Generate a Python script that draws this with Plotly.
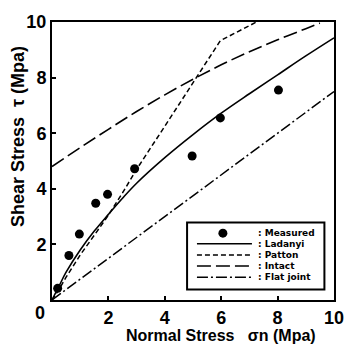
import plotly.graph_objects as go

# Measured data
meas_sigma = [0.2, 0.6, 0.97, 1.55, 1.97, 2.93, 4.97, 5.97, 8.03]
meas_tau = [0.42, 1.6, 2.37, 3.48, 3.8, 4.72, 5.18, 6.55, 7.55]

# Ladanyi
lad_sigma = [0, 0.1, 0.25, 0.5, 1, 1.5, 2, 2.5, 3, 4, 5, 6, 7, 8, 9, 10]
lad_tau = [0, 0.2, 0.5, 1.0, 1.8, 2.48, 3.08, 3.66, 4.2, 5.12, 5.95, 6.72, 7.42, 8.1, 8.78, 9.43]

# Patton
pat_sigma = [0, 0.25, 0.5, 1, 1.5, 2, 2.5, 3, 4, 5, 5.97, 7.25]
pat_tau = [0, 0.38, 0.82, 1.62, 2.33, 3.05, 3.85, 4.7, 6.25, 7.8, 9.33, 10]

# Intact
int_sigma = [0, 1, 2, 3, 4, 5, 6, 7, 8, 9, 9.5]
int_tau = [4.8, 5.48, 6.14, 6.78, 7.38, 7.94, 8.46, 8.93, 9.36, 9.76, 9.96]

# Flat joint
flat_sigma = [0, 10]
flat_tau = [0, 7.5]

x_ticks = [2, 4, 6, 8, 10]
y_ticks = [2, 4, 6, 8, 10]
legend_labels = [": Measured", ": Ladanyi", ": Patton", ": Intact", ": Flat joint"]

FONT = "Liberation Sans"
fig = go.Figure()
fig.add_trace(go.Scatter(x=lad_sigma, y=lad_tau, mode="lines", line=dict(color="black", width=1.6, shape="spline", smoothing=1.0), showlegend=False))
fig.add_trace(go.Scatter(x=pat_sigma, y=pat_tau, mode="lines", line=dict(color="black", width=1.5, dash="5px,3px"), showlegend=False))
fig.add_trace(go.Scatter(x=int_sigma, y=int_tau, mode="lines", line=dict(color="black", width=1.6, dash="14px,5px", shape="spline"), showlegend=False))
fig.add_trace(go.Scatter(x=flat_sigma, y=flat_tau, mode="lines", line=dict(color="black", width=1.5, dash="11px,3px,2px,3px"), showlegend=False))
fig.add_trace(go.Scatter(x=meas_sigma, y=meas_tau, mode="markers", marker=dict(color="black", size=9), showlegend=False, cliponaxis=False))

# Manual legend (layout in paper coordinates)
box = dict(x0=0.479, x1=0.966, y0=0.038, y1=0.279)
rows = [0.2404, 0.2021, 0.1620, 0.1220, 0.0819]
sx0, sx1, mx, tx = 0.514, 0.709, 0.606, 0.722
shapes = [dict(type="rect", xref="paper", yref="paper", line=dict(color="black", width=2), fillcolor="white", layer="above", **box)]
shapes.append(dict(type="circle", xref="paper", yref="paper", xsizemode="pixel", ysizemode="pixel",
                   xanchor=mx, yanchor=rows[0], x0=-4.5, x1=4.5, y0=-4.5, y1=4.5,
                   fillcolor="black", line=dict(color="black", width=0), layer="above"))
dashes = ["solid", "5px,3px", "14px,5px", "11px,3px,2px,3px"]
for r, d in zip(rows[1:], dashes):
    shapes.append(dict(type="line", xref="paper", yref="paper", x0=sx0, x1=sx1, y0=r, y1=r,
                       line=dict(color="black", width=1.5, dash=d), layer="above"))

annotations = []
for r, lab in zip(rows, legend_labels):
    annotations.append(dict(x=tx, y=r, xref="paper", yref="paper", text=lab, showarrow=False,
                            xanchor="left", yanchor="middle", font=dict(family="DejaVu Sans", size=9, color="black", weight="bold")))
annotations.append(dict(x=-0.041, y=-0.045, xref="paper", yref="paper", text="0", showarrow=False,
                        xanchor="center", yanchor="middle", font=dict(family=FONT, size=18, color="black", weight="bold")))
annotations.append(dict(x=0.60, y=-0.126, xref="paper", yref="paper", text="Normal Stress   σn (Mpa)", showarrow=False,
                        xanchor="center", yanchor="middle", font=dict(family=FONT, size=16, color="black", weight="bold")))
annotations.append(dict(x=-0.118, y=0.589, xref="paper", yref="paper", text="Shear Stress  τ (Mpa)", showarrow=False,
                        textangle=-90, xanchor="center", yanchor="middle", font=dict(family=FONT, size=18, color="black", weight="bold")))

axis_common = dict(range=[0, 10], showgrid=False, zeroline=False, showline=True, linecolor="black", linewidth=2,
                   mirror=True, ticks="inside", ticklen=4, tickwidth=1.5, tickcolor="black",
                   tickfont=dict(family=FONT, size=18, color="black", weight="bold"))
fig.update_layout(
    width=356, height=346,
    margin=dict(l=52, r=14, t=13, b=46),
    paper_bgcolor="white", plot_bgcolor="white",
    xaxis=dict(tickvals=x_ticks, ticktext=[str(v) for v in x_ticks], **axis_common),
    yaxis=dict(tickvals=y_ticks, ticktext=[str(v) for v in y_ticks], **axis_common),
    shapes=shapes, annotations=annotations,
)
fig.write_html("out.html")
